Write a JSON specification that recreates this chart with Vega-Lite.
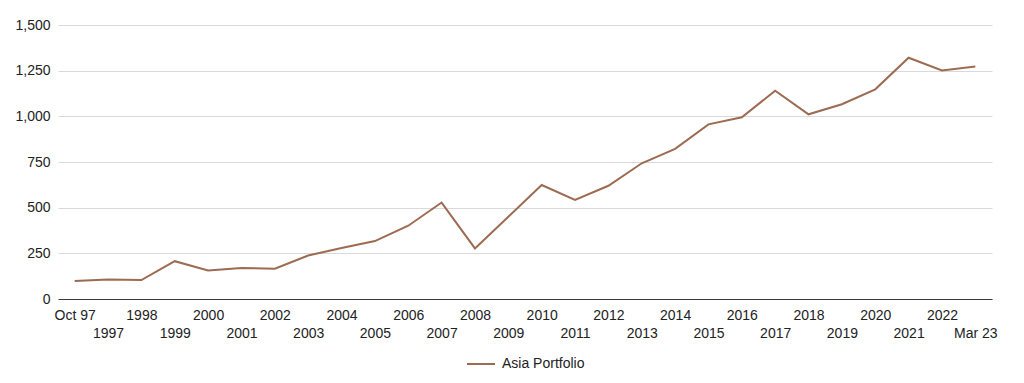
{
  "$schema": "https://vega.github.io/schema/vega-lite/v6.json",
  "width": 934,
  "height": 274,
  "autosize": {"type": "none"},
  "padding": {"left": 58, "top": 25, "right": 32, "bottom": 84},
  "background": "white",
  "config": {
    "font": "Liberation Sans",
    "view": {"stroke": null},
    "axis": {"labelFont": "Liberation Sans", "labelFontSize": 14, "labelColor": "#222222", "titleFont": "Liberation Sans"},
    "legend": {"labelFont": "Liberation Sans", "labelFontSize": 14, "labelColor": "#222222"}
  },
  "data": {
    "values": [
      {"period": "Oct 97", "value": 99, "series": "Asia Portfolio"},
      {"period": "1997", "value": 107, "series": "Asia Portfolio"},
      {"period": "1998", "value": 104, "series": "Asia Portfolio"},
      {"period": "1999", "value": 207, "series": "Asia Portfolio"},
      {"period": "2000", "value": 156, "series": "Asia Portfolio"},
      {"period": "2001", "value": 170, "series": "Asia Portfolio"},
      {"period": "2002", "value": 166, "series": "Asia Portfolio"},
      {"period": "2003", "value": 238, "series": "Asia Portfolio"},
      {"period": "2004", "value": 279, "series": "Asia Portfolio"},
      {"period": "2005", "value": 317, "series": "Asia Portfolio"},
      {"period": "2006", "value": 401, "series": "Asia Portfolio"},
      {"period": "2007", "value": 528, "series": "Asia Portfolio"},
      {"period": "2008", "value": 277, "series": "Asia Portfolio"},
      {"period": "2009", "value": 450, "series": "Asia Portfolio"},
      {"period": "2010", "value": 624, "series": "Asia Portfolio"},
      {"period": "2011", "value": 542, "series": "Asia Portfolio"},
      {"period": "2012", "value": 620, "series": "Asia Portfolio"},
      {"period": "2013", "value": 743, "series": "Asia Portfolio"},
      {"period": "2014", "value": 822, "series": "Asia Portfolio"},
      {"period": "2015", "value": 956, "series": "Asia Portfolio"},
      {"period": "2016", "value": 995, "series": "Asia Portfolio"},
      {"period": "2017", "value": 1140, "series": "Asia Portfolio"},
      {"period": "2018", "value": 1011, "series": "Asia Portfolio"},
      {"period": "2019", "value": 1066, "series": "Asia Portfolio"},
      {"period": "2020", "value": 1148, "series": "Asia Portfolio"},
      {"period": "2021", "value": 1321, "series": "Asia Portfolio"},
      {"period": "2022", "value": 1251, "series": "Asia Portfolio"},
      {"period": "Mar 23", "value": 1273, "series": "Asia Portfolio"}
    ]
  },
  "mark": {"type": "line", "strokeWidth": 2},
  "encoding": {
    "x": {
      "field": "period",
      "type": "ordinal",
      "sort": null,
      "scale": {"type": "point", "padding": 0.5},
      "axis": {
        "title": null,
        "labelAngle": 0,
        "ticks": false,
        "domain": true,
        "domainColor": "#3a3a3a",
        "domainWidth": 1,
        "grid": false,
        "labelBaseline": "top",
        "labelOverlap": false,
        "labelPadding": {"condition": {"test": "datum.value == 'Oct 97' || (datum.value != 'Mar 23' && toNumber(datum.value) % 2 == 0)", "value": 9}, "value": 27}
      }
    },
    "y": {
      "field": "value",
      "type": "quantitative",
      "scale": {"domain": [0, 1500], "nice": false},
      "axis": {
        "title": null,
        "values": [0, 250, 500, 750, 1000, 1250, 1500],
        "format": ",d",
        "ticks": false,
        "domain": false,
        "labelPadding": 8,
        "gridColor": "#d9d9d9",
        "gridWidth": 1
      }
    },
    "color": {
      "field": "series",
      "type": "nominal",
      "scale": {"range": ["#9c6b52"]},
      "legend": {
        "title": null,
        "orient": "none",
        "legendX": 408,
        "legendY": 324,
        "direction": "horizontal",
        "symbolType": "stroke",
        "symbolSize": 784,
        "symbolStrokeWidth": 2,
        "labelOffset": 6
      }
    }
  }
}
